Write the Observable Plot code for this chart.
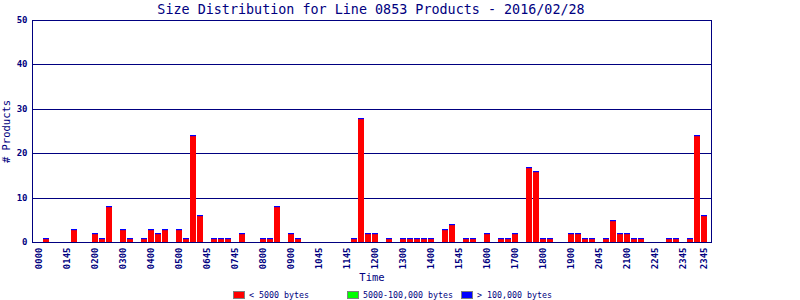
<!DOCTYPE html>
<html><head><meta charset="utf-8">
<script src="https://cdn.jsdelivr.net/npm/d3@7"></script>
<script src="https://cdn.jsdelivr.net/npm/@observablehq/plot@0.6"></script>
<style>
body{margin:0;background:#fff;width:800px;height:300px;overflow:hidden;position:relative;font-family:"DejaVu Sans Mono",monospace;color:#000080}
#title{position:absolute;left:0;top:1px;width:742px;text-align:center;font-size:13.4px;line-height:17px;white-space:nowrap}
#chart{position:absolute;left:0;top:18px;}
#legend{position:absolute;left:233px;top:291px;display:flex;font-size:8.3px;line-height:8px}
.item{width:114px;display:flex;align-items:center;white-space:nowrap}
.sw{width:10px;height:6px;border:1px solid #808080;margin-right:4px;flex:none}
</style></head>
<body>
<div id="title">Size Distribution for Line 0853 Products - 2016/02/28</div>
<div id="chart"></div>
<div id="legend"></div>
<script>
const navy = "#000080";
const classes = ["< 5000 bytes", "5000-100,000 bytes", "> 100,000 bytes"];
const colors = ["#ff0000", "#00ff00", "#0000ff"];
// counts per time slot (96 slots)
const small = [0,1,0,0,0,3,0,0,2,1,8,0,3,1,0,1,3,2,3,0,3,1,24,6,
               0,1,1,1,0,2,0,0,1,1,8,0,2,1,0,0,0,0,0,0,0,1,28,2,
               2,0,1,0,1,1,1,1,1,0,3,4,0,1,1,0,2,0,1,1,2,0,17,16,
               1,1,0,0,2,2,1,1,0,1,5,2,2,1,1,0,0,0,1,1,0,1,24,6];
const medium = [0,0,0,0,0,0,0,0,0,0,0,0,0,0,0,0,0,0,0,0,0,0,0,0,
                0,0,0,0,0,0,0,0,0,0,0,0,0,0,0,0,0,0,0,0,0,0,0,0,
                0,0,0,0,0,0,0,0,0,0,0,0,0,0,0,0,0,0,0,0,0,0,0,0,
                0,0,0,0,0,0,0,0,0,0,0,0,0,0,0,0,0,0,0,0,0,0,0,0];
const large = [0,0,0,0,0,0,0,0,0,0,0,0,0,0,0,0,0,0,0,0,0,0,0,0,
               0,0,0,0,0,0,0,0,0,0,0,0,0,0,0,0,0,0,0,0,0,0,0,0,
               0,0,0,0,0,0,0,0,0,0,0,0,0,0,0,0,0,0,0,0,0,0,0,0,
               0,0,0,0,0,0,0,0,0,0,0,0,0,0,0,0,0,0,0,0,0,0,0,0];
const tickSlots = [0,4,8,12,16,20,24,28,32,36,40,44,48,52,56,60,64,68,72,76,80,84,88,92,95];
const tickLabels = ["0000","0145","0200","0300","0400","0500","0645","0745","0800","0900","1045","1145",
                    "1200","1300","1400","1545","1600","1700","1800","1900","2045","2100","2245","2345","2345"];
const yTicks = [0,10,20,30,40,50];
const gridValues = [10,20,30,40,50];

const slots = small.map((_, i) => i);
const series = [small, medium, large];
const rows = [];
slots.forEach(i => series.forEach((s, k) => rows.push({slot: i, cls: classes[k], count: s[i]})));
const totals = slots.map(i => ({slot: i, total: small[i] + medium[i] + large[i]})).filter(d => d.total > 0);
const labelOf = new Map(tickSlots.map((s, i) => [s, tickLabels[i]]));

const chart = Plot.plot({
  width: 800, height: 270,
  marginTop: 2, marginBottom: 46, marginLeft: 32, marginRight: 89,
  style: {fontFamily: "DejaVu Sans Mono", fontSize: "9px", color: navy, background: "white", overflow: "visible"},
  x: {type: "band", domain: slots, paddingInner: 0.15, paddingOuter: 0.575, align: 0.44, round: true, axis: null},
  y: {domain: [0, 50], round: true, axis: null},
  color: {domain: classes, range: colors},
  marks: [
    Plot.ruleY(gridValues, {stroke: navy, strokeWidth: 1}),
    Plot.barY(rows, {x: "slot", y: "count", fill: "cls", order: classes}),
    Plot.barY(totals, {x: "slot", y1: "total", y2: "total", insetBottom: -1.2, fill: "#0000ff"}),
    Plot.frame({stroke: navy}),
    Plot.axisX({ticks: tickSlots, tickFormat: d => labelOf.get(d), tickRotate: -90, tickSize: 0, tickPadding: 5,
      fill: navy, fontWeight: "bold", label: null}),
    Plot.axisX({ticks: [], tickSize: 0, fill: navy, fontSize: 10.5, label: "Time", labelAnchor: "center",
      labelOffset: 38, labelArrow: "none"}),
    Plot.axisY({ticks: yTicks, tickSize: 0, tickPadding: 5, fill: navy, fontWeight: "bold", label: null}),
    Plot.axisY({ticks: [], tickSize: 0, fill: navy, fontSize: 10.5, label: "# Products", labelAnchor: "center",
      labelOffset: 30, labelArrow: "none"})
  ]
});
document.getElementById("chart").appendChild(chart);

const legend = document.getElementById("legend");
classes.forEach((c, i) => {
  const item = document.createElement("div");
  item.className = "item";
  const sw = document.createElement("span");
  sw.className = "sw";
  sw.style.background = colors[i];
  const t = document.createElement("span");
  t.textContent = c;
  item.appendChild(sw); item.appendChild(t);
  legend.appendChild(item);
});
</script>
</body></html>
